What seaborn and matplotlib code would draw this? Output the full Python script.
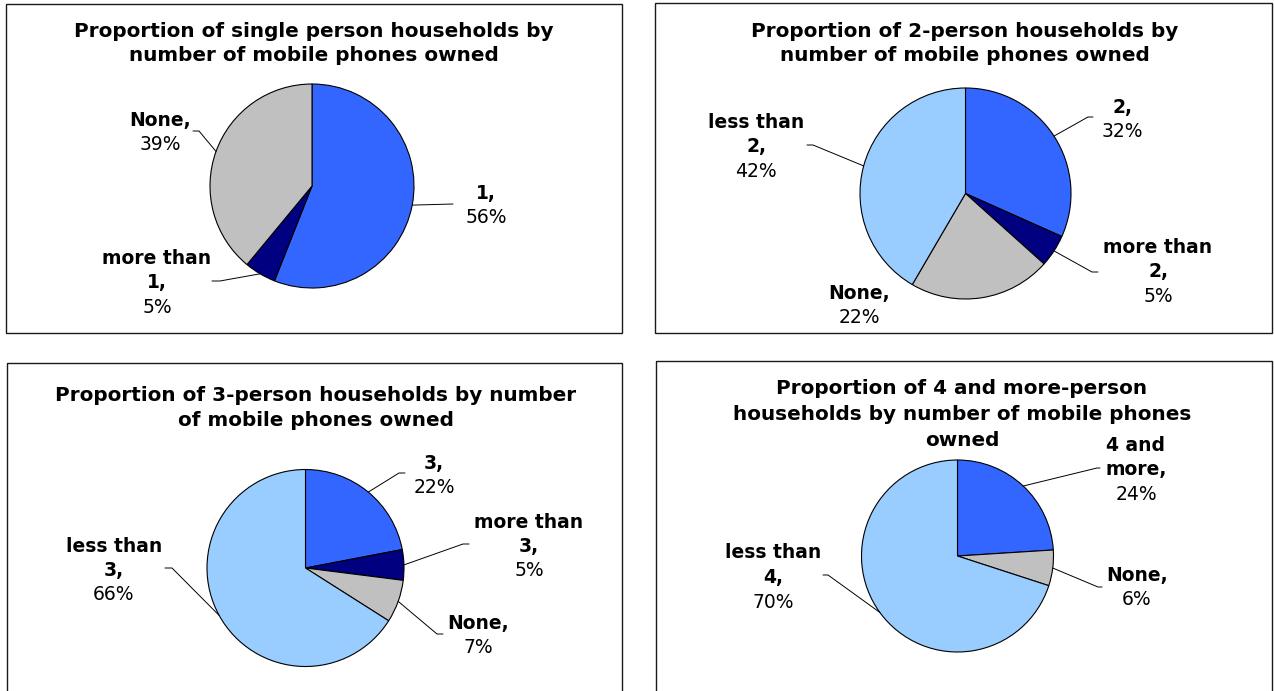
import matplotlib
matplotlib.use("Agg")
import matplotlib.pyplot as plt
from matplotlib.patches import Rectangle
import seaborn as sns
import numpy as np

# ---- data -------------------------------------------------------------
single_cats = ["1", "more than 1", "None"]
single_shares = [56, 5, 39]

two_cats = ["2", "more than 2", "None", "less than 2"]
two_shares = [32, 5, 22, 42]

three_cats = ["3", "more than 3", "None", "less than 3"]
three_shares = [22, 5, 7, 66]

four_cats = ["4 and more", "None", "less than 4"]
four_shares = [24, 6, 70]

titles = [
    "Proportion of single person households by\nnumber of mobile phones owned",
    "Proportion of 2-person households by\nnumber of mobile phones owned",
    "Proportion of 3-person households by number\nof mobile phones owned",
    "Proportion of 4 and more-person\nhouseholds by number of mobile phones\nowned",
]

# category name lines as printed next to each slice
label_lines = {
    "1": ["1,"], "more than 1": ["more than", "1,"], "None": ["None,"],
    "2": ["2,"], "more than 2": ["more than", "2,"], "less than 2": ["less than", "2,"],
    "3": ["3,"], "more than 3": ["more than", "3,"], "less than 3": ["less than", "3,"],
    "4 and more": ["4 and", "more,"], "less than 4": ["less than", "4,"],
}

# ---- style ------------------------------------------------------------
sns.set_theme(style="white")
plt.rcParams["font.family"] = ["DejaVu Sans"]
blue, navy, grey, light = sns.color_palette(["#3366FF", "#000080", "#C0C0C0", "#99CCFF"])


def slice_color(cat):
    if cat == "None":
        return grey
    if cat.startswith("more than"):
        return navy
    if cat.startswith("less than"):
        return light
    return blue


W, H = 1274, 691
fig = plt.figure(figsize=(W / 100, H / 100), dpi=100)
ax = fig.add_axes([0, 0, 1, 1])

FS = 13.5        # data label size
TFS = 14.4       # title size
LINE = 24.5

# panel layout in pixel units: box, title centre, pie centre/radius and label placement
# label placement: (text x, first line y, elbow, stub end) ; elbow None -> no leader
panels = [
    dict(cats=single_cats, vals=single_shares, title=titles[0],
         box=(6, 4, 622, 333), tpos=(314, 31), tls=24,
         center=(312, 186), r=102,
         labels={"1": (486, 193, (453, 204), (453, 204)),
                 "more than 1": (157, 258, (220, 281), (212, 281)),
                 "None": (160, 120, (199, 131), (193, 131))}),
    dict(cats=two_cats, vals=two_shares, title=titles[1],
         box=(655, 3, 1272, 333), tpos=(965, 31), tls=24,
         center=(965.5, 193.5), r=105.5,
         labels={"2": (1122, 107, (1088, 117), (1093, 117)),
                 "more than 2": (1158, 247, (1092, 272), (1098, 272)),
                 "None": (859, 293, None, None),
                 "less than 2": (756, 122, (813, 145), (807, 145))}),
    dict(cats=three_cats, vals=three_shares, title=titles[2],
         box=(7, 363, 622, 720), tpos=(316, 395), tls=25,
         center=(305.5, 568), r=98.5,
         labels={"3": (434, 463, (399, 473), (405, 473)),
                 "more than 3": (529, 522, (463, 544), (469, 544)),
                 "None": (478, 623, (437, 634), (443, 634)),
                 "less than 3": (114, 546, (172, 568), (165, 568))}),
    dict(cats=four_cats, vals=four_shares, title=titles[3],
         box=(656, 361, 1272, 720), tpos=(962, 388), tls=26,
         center=(957.5, 556), r=96,
         labels={"4 and more": (1136, 445, (1097, 468), (1100, 468)),
                 "None": (1137, 575, (1098, 587), (1102, 587)),
                 "less than 4": (773, 553, (828, 575), (823, 575))}),
]

for p in panels:
    x0, y0, x1, y1 = p["box"]
    ax.add_patch(Rectangle((x0, y0), x1 - x0, y1 - y0, fill=False,
                           edgecolor="#1a1a1a", linewidth=1.0, zorder=1))

    # title, one line per text row
    tx, ty = p["tpos"]
    for i, line in enumerate(p["title"].split("\n")):
        ax.text(tx, ty + i * p["tls"], line, ha="center", va="center",
                fontsize=TFS, fontweight="bold", color="black", zorder=5)

    cats, vals = p["cats"], p["vals"]
    cx, cy = p["center"]
    # y axis points down, so counter-clockwise in data space is clockwise on screen
    wedges, _ = ax.pie(vals, colors=[slice_color(c) for c in cats],
                       startangle=-90, counterclock=True,
                       center=(cx, cy), radius=p["r"], frame=True,
                       wedgeprops=dict(edgecolor="black", linewidth=0.8))

    for w, cat, v in zip(wedges, cats, vals):
        lx, ly, elbow, stub = p["labels"][cat]
        lines = label_lines[cat]
        for i, line in enumerate(lines):
            ax.text(lx, ly + i * LINE, line, ha="center", va="center",
                    fontsize=FS, fontweight="bold", color="black", zorder=5)
        ax.text(lx, ly + len(lines) * LINE, f"{v}%", ha="center", va="center",
                fontsize=FS, color="black", zorder=5)
        if elbow is not None:
            mid = np.deg2rad((w.theta1 + w.theta2) / 2)
            anchor = (cx + p["r"] * np.cos(mid), cy + p["r"] * np.sin(mid))
            xs = [anchor[0], elbow[0], stub[0]]
            ys = [anchor[1], elbow[1], stub[1]]
            ax.plot(xs, ys, color="black", linewidth=0.7, zorder=4)

ax.set_xlim(0, W)
ax.set_ylim(H, 0)
ax.set_aspect("equal")
ax.axis("off")

fig.savefig("out.png", dpi=100, facecolor="white")
